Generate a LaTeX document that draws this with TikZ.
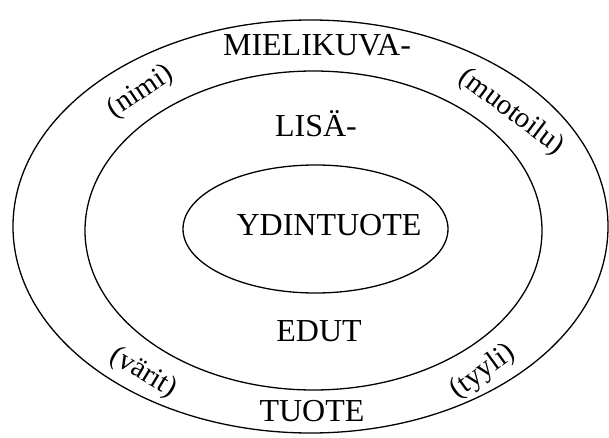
\documentclass[tikz,border=0pt]{standalone}
\usepackage{fontspec}
\setmainfont{Liberation Serif}
\usetikzlibrary{positioning}

\begin{document}
\begin{tikzpicture}[x=1pt, y=-1pt, line width=1.3pt,
  level/.style={font=\fontsize{32}{34}\selectfont, inner sep=0pt},
  attr/.style={font=\fontsize{29}{31}\selectfont, inner sep=0pt}]
  \useasboundingbox (0,0) rectangle (609,438);

  % three layers of the product
  \draw (310.5,226.5) ellipse [x radius=297.5pt, y radius=206.5pt];
  \draw (313.5,230.5) ellipse [x radius=228.5pt, y radius=159.5pt];
  \draw (315.5,229)   ellipse [x radius=132.5pt, y radius=64pt];

  % layer names
  \node[level] (mielikuva) at (317,45)  {MIELIKUVA-};
  \node[level] (lisa)      at (316,124) {LISÄ-};
  \node[level] (ydin)      at (329,225) {YDINTUOTE};
  \node[level] (edut)      at (319,331) {EDUT};
  \node[level] (tuote)     at (312,411) {TUOTE};

  % attributes on the outer ring
  \node[attr, rotate=34]  (nimi)     at (141,92)  {(nimi)};
  \node[attr, rotate=-37] (muotoilu) at (511,112) {(muotoilu)};
  \node[attr, rotate=-31] (varit)    at (143,373) {(värit)};
  \node[attr, rotate=36]  (tyyli)    at (483,372) {(tyyli)};
\end{tikzpicture}
\end{document}
